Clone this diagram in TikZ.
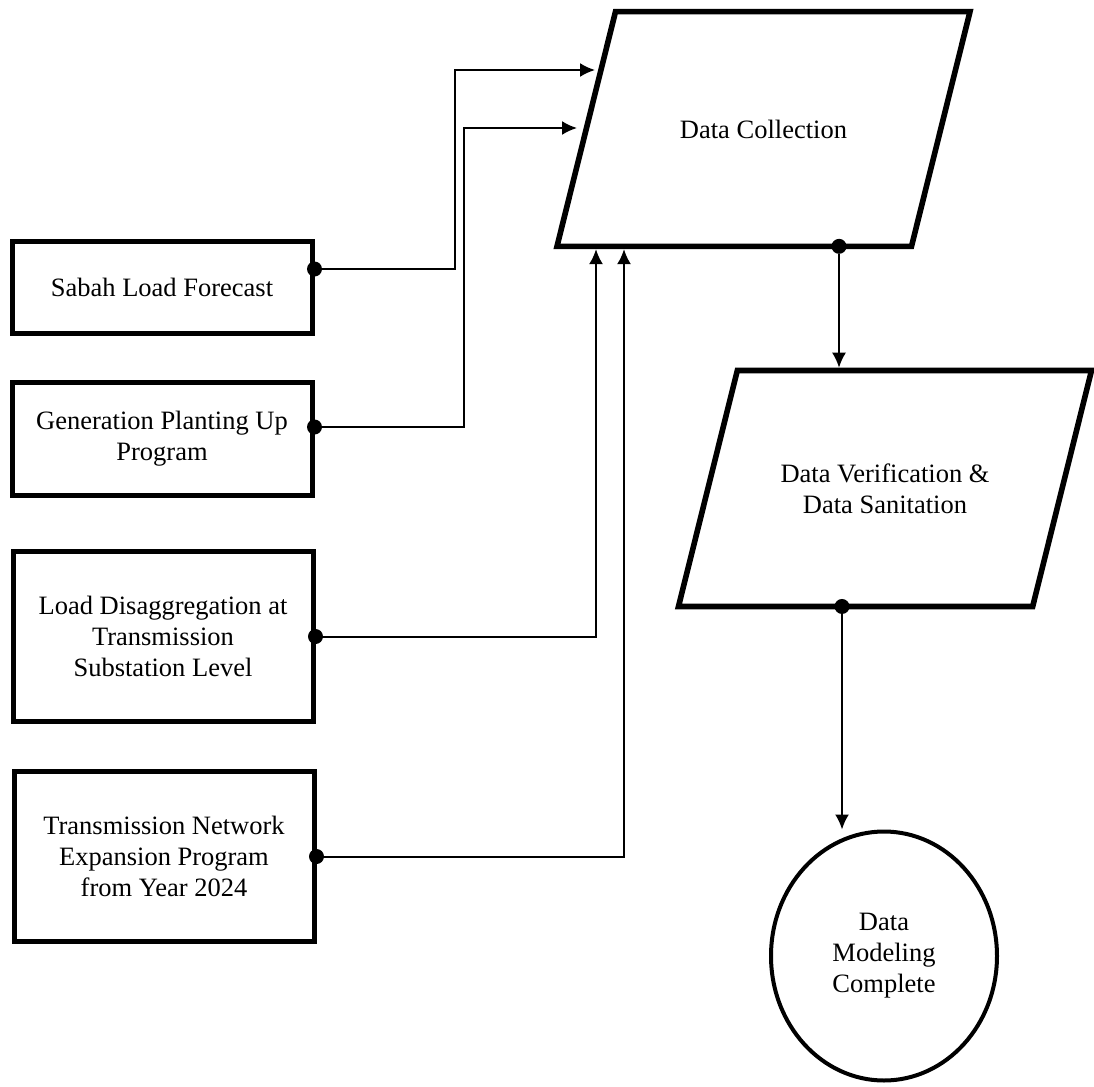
\documentclass[tikz,border=0pt]{standalone}
\usepackage{fontspec}
\setmainfont{Liberation Serif}
\usepackage{tikz}
\usetikzlibrary{arrows.meta, shapes.geometric}

\tikzset{
  txt/.style={font=\fontsize{13.25pt}{15.5pt}\selectfont, align=center, inner sep=0pt},
  inbox/.style={txt, draw, line width=2.5pt, minimum width=150pt},
  iobox/.style={txt, draw, line width=2.8pt, trapezium, trapezium left angle=76,
    trapezium right angle=104, trapezium stretches body, minimum width=206.5pt},
  endbox/.style={txt, draw, line width=2pt, ellipse, minimum width=113pt, minimum height=124.5pt},
  joint/.style={circle, fill, inner sep=0pt, minimum size=7.5pt},
  flow/.style={line width=1pt, -{Latex[length=7.5pt,width=7pt]}}
}

\begin{document}
\begin{tikzpicture}[x=0.5pt, y=-0.5pt]
\useasboundingbox (0,0) rectangle (1094,1087);

% inputs
\node[inbox, minimum height=46pt] (sabah) at (162,287) {Sabah Load Forecast};
\node[inbox, minimum height=56.5pt] (gen) at (162,438.5) {Generation Planting Up\\Program};
\node[inbox, minimum height=85pt] (disagg) at (163,636.5) {Load Disaggregation at\\Transmission\\Substation Level};
\node[inbox, minimum height=85pt] (tnep) at (164,856.5) {Transmission Network\\Expansion Program\\from Year 2024};

% process
\node[iobox, inner ysep=54pt] (collect) at (763.5,129) {Data Collection};
\node[iobox, inner ysep=46.5pt] (verif) at (885,488.5) {Data Verification \&\\Data Sanitation};
\node[endbox] (done) at (884,956) {Data\\Modeling\\Complete};

% joints
\node[joint] (j1) at ([yshift=9pt]sabah.east) {};
\node[joint] (j2) at ([yshift=5.75pt]gen.east) {};
\node[joint] (j3) at (disagg.east) {};
\node[joint] (j4) at (tnep.east) {};
\node[joint] (j5) at ([xshift=37.75pt,yshift=1.4pt]collect.south) {};
\node[joint] (j6) at ([xshift=-21.5pt,yshift=1.4pt]verif.south) {};

\coordinate (in1) at (595,70);
\coordinate (in2) at (577,128);

\draw[flow] (j1) -| (455,70) -- (in1);
\draw[flow] (j2) -| (464,128) -- (in2);
\draw[flow] (j3) -| (596,0 |- collect.south);
\draw[flow] (j4) -| (624,0 |- collect.south);
\draw[flow] (j5) -- (j5 |- verif.north);
\draw[flow] (j6) -- (j6 |- done.north);

\end{tikzpicture}
\end{document}
